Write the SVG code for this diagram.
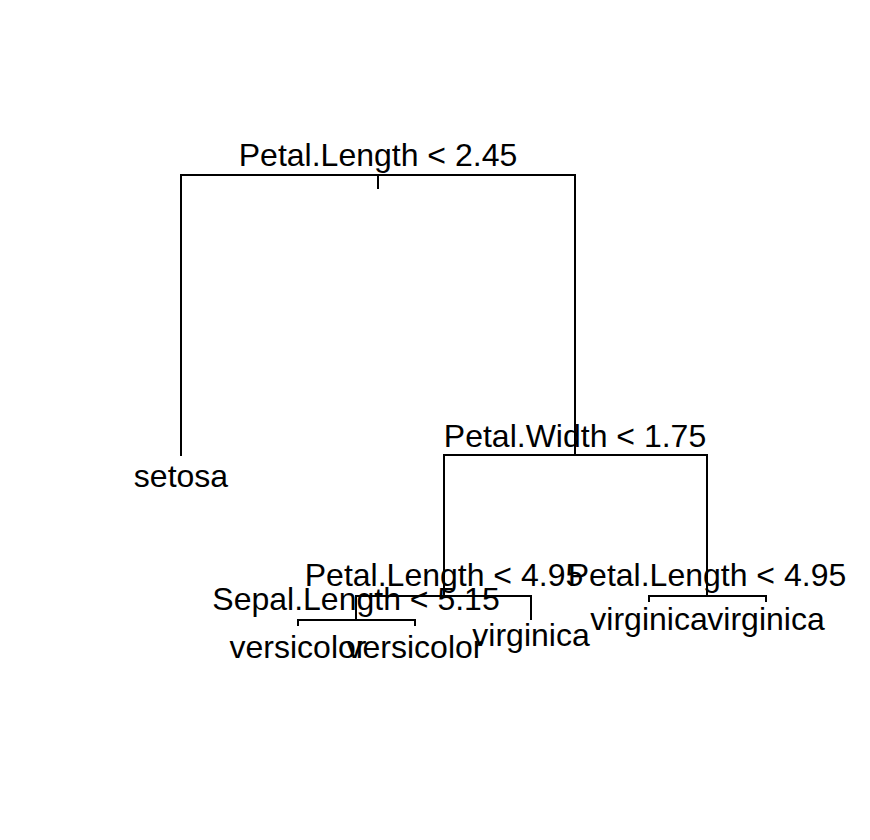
<svg xmlns="http://www.w3.org/2000/svg" width="870" height="840" viewBox="0 0 870 840">
<style>
.e{stroke:#000;stroke-width:2;fill:none;stroke-linecap:butt}
.t{font-family:"Liberation Sans",Arial,sans-serif;font-size:32px;fill:#000;text-anchor:middle}
</style>
<rect width="870" height="840" fill="#fff"/>
<g id="connectors" class="e">
<path d="M378,175V189"/>
<path d="M181,456V175H575V455"/>
<path d="M444,596V455H707V596"/>
<path d="M356,620V596H531V620"/>
<path d="M298,626V620H415V626"/>
<path d="M649,602V596H766V602"/>
</g>
<g id="n1"><text class="t" x="378" y="166">Petal.Length &lt; 2.45</text></g>
<g id="n2"><text class="t" x="181" y="487">setosa</text></g>
<g id="n3"><text class="t" x="575" y="447">Petal.Width &lt; 1.75</text></g>
<g id="n4"><text class="t" x="444" y="586">Petal.Length &lt; 4.95</text></g>
<g id="n5"><text class="t" x="356" y="610">Sepal.Length &lt; 5.15</text></g>
<g id="n6"><text class="t" x="298" y="658">versicolor</text></g>
<g id="n7"><text class="t" x="415" y="658">versicolor</text></g>
<g id="n8"><text class="t" x="531" y="646">virginica</text></g>
<g id="n9"><text class="t" x="707" y="586">Petal.Length &lt; 4.95</text></g>
<g id="n10"><text class="t" x="649" y="630">virginica</text></g>
<g id="n11"><text class="t" x="766" y="630">virginica</text></g>
</svg>
